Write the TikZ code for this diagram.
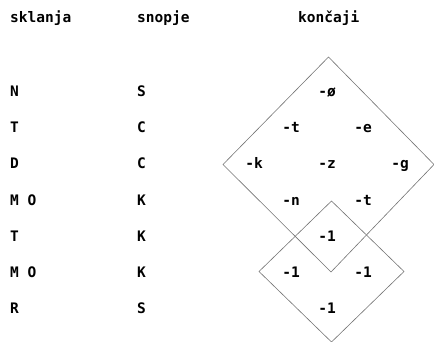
\documentclass[tikz,border=0pt]{standalone}
\usepackage{fontspec}
\setmonofont{DejaVu Sans Mono}
\begin{document}
\begin{tikzpicture}[x=1pt,y=-1pt,
  txt/.style={font=\ttfamily\bfseries\fontsize{14.5}{16}\selectfont, inner sep=0pt},
  lft/.style={txt, anchor=base west},
  mid/.style={txt, anchor=base},
  dia/.style={draw=black!55, line width=0.6pt, line join=miter}]
\useasboundingbox (0,0) rectangle (434,342);
% headers
\node[lft] (h1) at (10,23) {sklanja};
\node[lft] (h2) at (137,23) {snopje};
\node[lft] (h3) at (298,23) {končaji};
% column 1
\node[lft] (a1) at (10,97) {N};
\node[lft] (a2) at (10,133) {T};
\node[lft] (a3) at (10,169) {D};
\node[lft] (a4) at (10,205) {M O};
\node[lft] (a5) at (10,241) {T};
\node[lft] (a6) at (10,277) {M O};
\node[lft] (a7) at (10,313) {R};
% column 2
\node[lft] (b1) at (137,97) {S};
\node[lft] (b2) at (137,133) {C};
\node[lft] (b3) at (137,169) {C};
\node[lft] (b4) at (137,205) {K};
\node[lft] (b5) at (137,241) {K};
\node[lft] (b6) at (137,277) {K};
\node[lft] (b7) at (137,313) {S};
% diamonds
\coordinate (BT) at (328.5,57);
\coordinate (BR) at (434,164.5);
\coordinate (BB) at (331,272);
\coordinate (BL) at (223,164.5);
\draw[dia] (BT) -- (BR) -- (BB) -- (BL) -- cycle;
\coordinate (ST) at (331.5,201);
\coordinate (SR) at (404,271.5);
\coordinate (SB) at (331.5,342);
\coordinate (SL) at (259,271.5);
\draw[dia] (ST) -- (SR) -- (SB) -- (SL) -- cycle;
% endings
\node[mid] (c1) at (327,97) {-ø};
\node[mid] (c2) at (291,133) {-t};
\node[mid] (c3) at (363,133) {-e};
\node[mid] (c4) at (254,169) {-k};
\node[mid] (c5) at (327,169) {-z};
\node[mid] (c6) at (400,169) {-g};
\node[mid] (c7) at (291,205) {-n};
\node[mid] (c8) at (363,205) {-t};
\node[mid] (c9) at (327,241) {-1};
\node[mid] (c10) at (291,277) {-1};
\node[mid] (c11) at (363,277) {-1};
\node[mid] (c12) at (327,313) {-1};
\end{tikzpicture}
\end{document}
